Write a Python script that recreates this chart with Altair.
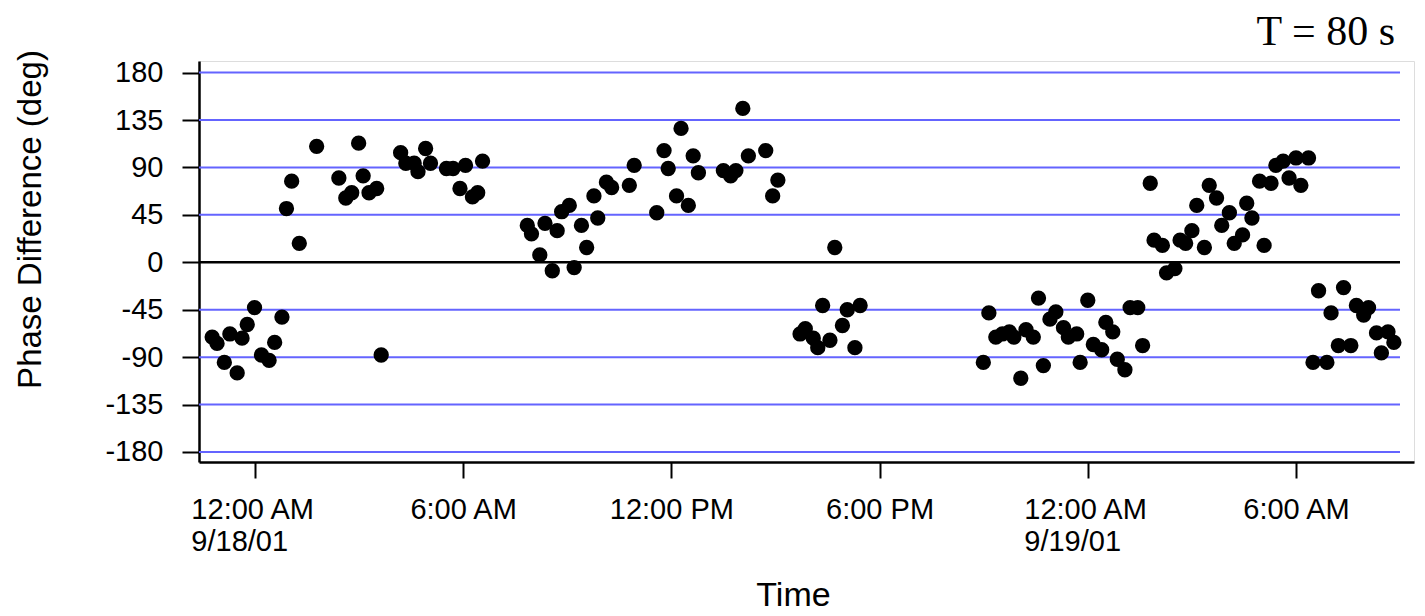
import altair as alt
import pandas as pd

# hours since 12:00 AM 9/18/01
hours = [
    -1.23, -1.09, -0.88, -0.72, -0.51, -0.37, -0.22, -0.01, 0.19, 0.41, 0.57, 0.78,
    0.91, 1.06, 1.28, 1.78, 2.42, 2.62, 2.79, 2.99, 3.12, 3.29, 3.51, 3.64, 4.20, 4.35,
    4.59, 4.70, 4.92, 5.06, 5.52, 5.71, 5.91, 6.07, 6.27, 6.42, 6.56,
    7.85, 7.97, 8.21, 8.36, 8.57, 8.71, 8.84, 9.06, 9.20, 9.41, 9.56, 9.77, 9.88, 10.13,
    10.28, 10.79, 10.93, 11.58, 11.79, 11.91, 12.15, 12.28, 12.49, 12.63, 12.78, 13.50,
    13.71, 13.86, 14.06, 14.22, 14.72, 14.92, 15.07,
    15.71, 15.86, 16.09, 16.22, 16.36, 16.57, 16.71, 16.93, 17.07, 17.29, 17.44,
    20.99, 21.15, 21.35, 21.54, 21.74, 21.87, 22.07, 22.22, 22.43, 22.58, 22.72, 22.91,
    23.08, 23.30, 23.44, 23.68, 23.78, 24.00, 24.16, 24.40, 24.52, 24.72, 24.85, 25.07,
    25.22, 25.44, 25.58,
    25.80, 25.91, 26.15, 26.27, 26.51, 26.66, 26.82, 27.00, 27.14, 27.36, 27.50, 27.71,
    27.86, 28.08, 28.22, 28.46, 28.58, 28.73, 28.95, 29.08, 29.28, 29.42, 29.63, 29.80,
    30.00, 30.14, 30.36,
    30.49, 30.65, 30.89, 31.01, 31.22, 31.37, 31.58, 31.74, 31.95, 32.09, 32.32, 32.46,
    32.65, 32.82,
]
phase = [
    -71, -77, -95, -68, -105, -72, -59, -43, -88, -93, -76, -52,
    51, 77, 18, 110, 80, 61, 66, 113, 82, 66, 70, -88, 104, 94,
    94, 86, 108, 94, 89, 89, 70, 92, 62, 66, 96,
    35, 27, 7, 37, -8, 30, 48, 54, -5, 35, 14, 63, 42, 76,
    71, 73, 92, 47, 106, 89, 63, 127, 54, 101, 85, 87,
    82, 87, 146, 101, 106, 63, 78,
    -68, -63, -72, -81, -41, -74, 14, -60, -45, -81, -41,
    -95, -48, -71, -68, -66, -71, -110, -64, -71, -34, -98, -54,
    -47, -62, -71, -68, -95, -36, -78, -83, -57, -66, -92, -102,
    -43, -43, -79,
    75, 21, 16, -10, -6, 21, 18, 30, 54, 14, 73, 61,
    35, 47, 18, 26, 56, 42, 77, 16, 75, 92, 96, 80,
    99, 73, 99,
    -95, -27, -95, -48, -79, -24, -79, -41, -50, -43, -67, -86,
    -66, -76,
]

y_ticks = [-180, -135, -90, -45, 0, 45, 90, 135, 180]
x_tick_hours = [0, 6, 12, 18, 24, 30]
x_tick_line1 = ["12:00 AM", "6:00 AM", "12:00 PM", "6:00 PM", "12:00 AM", "6:00 AM"]
x_tick_line2 = ["9/18/01", "", "", "", "9/19/01", ""]

chart_title = "T = 80 s"
x_title = "Time"
y_title = "Phase Difference (deg)"

df = pd.DataFrame({"hours": hours, "phase": phase})
grid_df = pd.DataFrame({"level": [v for v in y_ticks if v != 0]})
zero_df = pd.DataFrame({"level": [0]})
title_df = pd.DataFrame({"t": [chart_title]})

# label expression for x ticks built from the lists
expr = "''"
for h, l1, l2 in reversed(list(zip(x_tick_hours, x_tick_line1, x_tick_line2))):
    lab = f"['{l1}', '{l2}']" if l2 else f"'{l1}'"
    expr = f"datum.value == {h} ? {lab} : ({expr})"
two_line = " || ".join(f"datum.value == {h}" for h, l2 in zip(x_tick_hours, x_tick_line2) if l2)

FONT = "Liberation Sans"
xscale = alt.Scale(domain=[-1.61, 33.4], nice=False, zero=False)
yscale = alt.Scale(domain=[-189.5, 191], nice=False, zero=False)

x_axis = alt.Axis(
    values=x_tick_hours, labelExpr=expr, grid=False,
    tickSize=16, tickWidth=2, tickColor="black",
    domainColor="black", domainWidth=2.5,
    labelFont=FONT, labelFontSize=29, labelColor="black", labelPadding=17,
    labelLineHeight=32, labelAngle=0,
    labelAlign={"condition": {"test": two_line, "value": "left"}, "value": "center"},
    labelOffset={"condition": {"test": two_line, "value": -64}, "value": 0},
    title=x_title, titleFont=FONT, titleFontSize=34, titleFontWeight="normal",
    titleColor="black", titleX=594, titleY=143, titleBaseline="alphabetic",
    titleAlign="center",
)
y_axis = alt.Axis(
    values=y_ticks, labelExpr="'' + datum.value", grid=False,
    tickSize=17, tickWidth=2, tickColor="black",
    domainColor="black", domainWidth=2.5,
    labelFont=FONT, labelFontSize=29, labelColor="black", labelPadding=19,
    title=y_title, titleFont=FONT, titleFontSize=33, titleFontWeight="normal",
    titleColor="black", titleAngle=270, titleX=-169, titleY=158,
    titleAlign="center", titleBaseline="middle",
)

grid = alt.Chart(grid_df).mark_rule(color="#6464ff", strokeWidth=2).encode(
    y=alt.Y("level:Q", scale=yscale, axis=y_axis),
    x=alt.value(0), x2=alt.value(1201),
)
zero = alt.Chart(zero_df).mark_rule(color="black", strokeWidth=2.5).encode(
    y=alt.Y("level:Q", scale=yscale, axis=y_axis),
    x=alt.value(0), x2=alt.value(1201),
)
points = alt.Chart(df).mark_circle(color="black", opacity=1, size=235).encode(
    x=alt.X("hours:Q", scale=xscale, axis=x_axis),
    y=alt.Y("phase:Q", scale=yscale, axis=y_axis),
)
title_text = alt.Chart(title_df).mark_text(
    align="right", baseline="alphabetic", font="Liberation Serif",
    fontSize=42, color="black",
).encode(text="t:N", x=alt.value(1196), y=alt.value(-16))

chart = alt.layer(grid, zero, points, title_text).properties(
    width=1215, height=401,
    autosize=alt.AutoSizeParams(type="none"),
    padding={"left": 191, "top": 53, "right": 3, "bottom": 154},
).configure_view(stroke="black", strokeWidth=2.5).configure(background="white")

chart.save("out.html", embed_options={"renderer": "svg", "actions": False})
